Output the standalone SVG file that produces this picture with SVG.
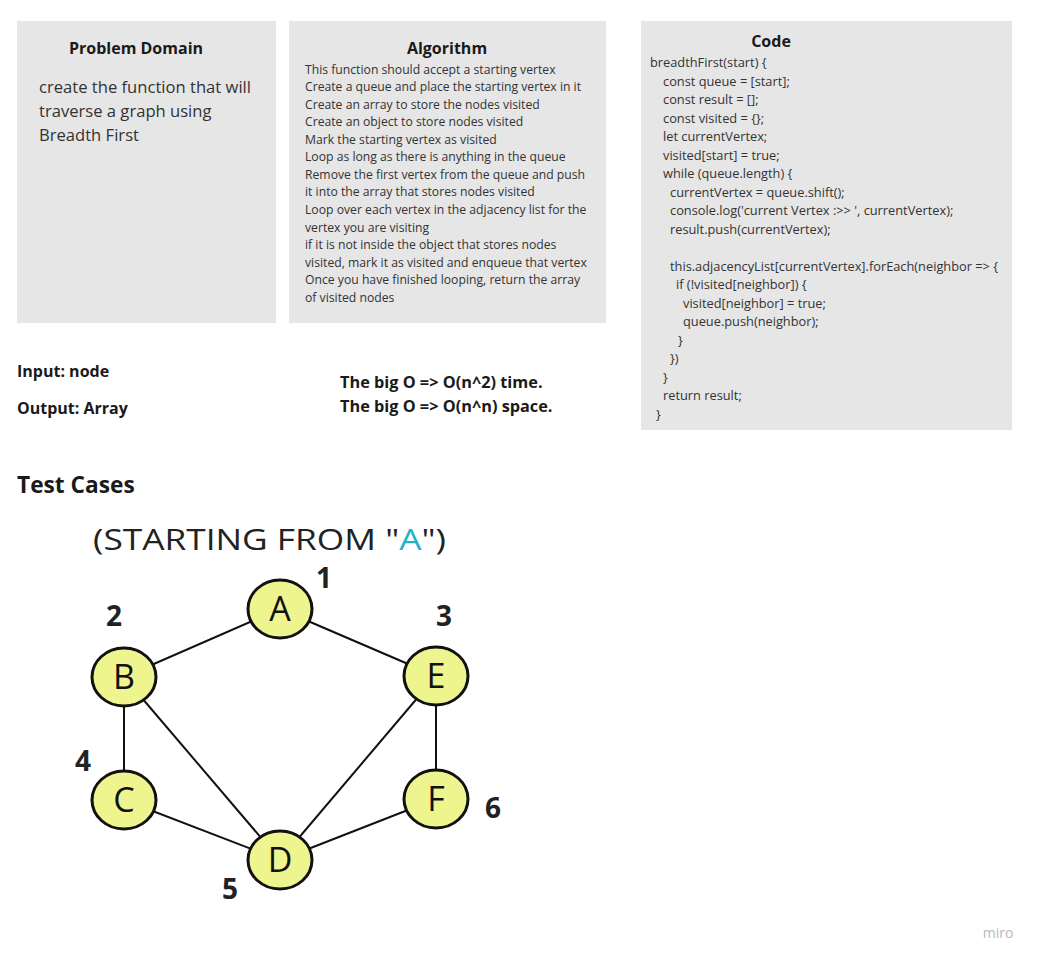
<svg xmlns="http://www.w3.org/2000/svg" width="1039" height="961" viewBox="0 0 1039 961">
<style>
.card{fill:#e6e6e6}
.h{font-family:"Open Sans","Liberation Sans",sans-serif;font-weight:700;font-size:16px;fill:#1a1a1a}
.bo{font-family:"Open Sans","Liberation Sans",sans-serif;font-weight:700;font-size:16.3px;fill:#1a1a1a}
.body{font-family:"Open Sans","Liberation Sans",sans-serif;font-size:16.6px;fill:#333}
.sm{font-family:"Open Sans","Liberation Sans",sans-serif;font-size:12.2px;fill:#333}
.code{font-family:"Open Sans","Liberation Sans",sans-serif;font-size:12.8px;fill:#333}
.node ellipse{fill:#eef48e;stroke:#111;stroke-width:3}
.node text{font-family:"Open Sans","Liberation Sans",sans-serif;font-size:34px;fill:#111;text-anchor:middle}
.num{font-family:"Open Sans","Liberation Sans",sans-serif;font-weight:700;font-size:28px;fill:#222}
#edges line{stroke:#111;stroke-width:2}
</style>
<rect width="1039" height="961" fill="#fff"/>
<g id="problem">
<rect class="card" x="17" y="21" width="259" height="302"/>
<text class="h" x="136" y="54" text-anchor="middle">Problem Domain</text>
<text class="body" x="39" y="93">create the function that will</text>
<text class="body" x="39" y="117">traverse a graph using</text>
<text class="body" x="39" y="141">Breadth First</text>
</g>
<g id="algorithm">
<rect class="card" x="289" y="21" width="317" height="302"/>
<text class="h" x="447" y="54" text-anchor="middle">Algorithm</text>
<text class="sm" x="305" y="74">This function should accept a starting vertex</text>
<text class="sm" x="305" y="91">Create a queue and place the starting vertex in it</text>
<text class="sm" x="305" y="109">Create an array to store the nodes visited</text>
<text class="sm" x="305" y="126">Create an object to store nodes visited</text>
<text class="sm" x="305" y="144">Mark the starting vertex as visited</text>
<text class="sm" x="305" y="161">Loop as long as there is anything in the queue</text>
<text class="sm" x="305" y="179">Remove the first vertex from the queue and push</text>
<text class="sm" x="305" y="196">it into the array that stores nodes visited</text>
<text class="sm" x="305" y="214">Loop over each vertex in the adjacency list for the</text>
<text class="sm" x="305" y="232">vertex you are visiting</text>
<text class="sm" x="305" y="249">if it is not inside the object that stores nodes</text>
<text class="sm" x="305" y="267">visited, mark it as visited and enqueue that vertex</text>
<text class="sm" x="305" y="284">Once you have finished looping, return the array</text>
<text class="sm" x="305" y="302">of visited nodes</text>
</g>
<g id="code">
<rect class="card" x="641" y="21" width="371" height="409"/>
<text class="h" x="771" y="47" text-anchor="middle">Code</text>
<text class="code" x="650" y="67">breadthFirst(start) {</text>
<text class="code" x="663" y="86">const queue = [start];</text>
<text class="code" x="663" y="104">const result = [];</text>
<text class="code" x="663" y="123">const visited = {};</text>
<text class="code" x="663" y="141">let currentVertex;</text>
<text class="code" x="663" y="160">visited[start] = true;</text>
<text class="code" x="663" y="178">while (queue.length) {</text>
<text class="code" x="670" y="197">currentVertex = queue.shift();</text>
<text class="code" x="670" y="215">console.log('current Vertex :&gt;&gt; ', currentVertex);</text>
<text class="code" x="670" y="234">result.push(currentVertex);</text>
<text class="code" x="670" y="271">this.adjacencyList[currentVertex].forEach(neighbor =&gt; {</text>
<text class="code" x="676" y="289">if (!visited[neighbor]) {</text>
<text class="code" x="683" y="308">visited[neighbor] = true;</text>
<text class="code" x="683" y="326">queue.push(neighbor);</text>
<text class="code" x="678" y="345">}</text>
<text class="code" x="670" y="363">})</text>
<text class="code" x="663" y="382">}</text>
<text class="code" x="663" y="400">return result;</text>
<text class="code" x="656" y="419">}</text>
</g>
<g id="io">
<text class="h" x="17" y="377">Input: node</text>
<text class="h" x="17" y="414">Output: Array</text>
</g>
<g id="bigo">
<text class="bo" x="340" y="388">The big O =&gt; O(n^2) time.</text>
<text class="bo" x="340" y="412">The big O =&gt; O(n^n) space.</text>
</g>
<text id="testcases" x="17" y="493" font-family="'Open Sans','Liberation Sans',sans-serif" font-weight="700" font-size="22.7" fill="#1a1a1a">Test Cases</text>
<text id="starting" x="93" y="550" font-family="'Open Sans','Liberation Sans',sans-serif" font-size="30" textLength="353" lengthAdjust="spacingAndGlyphs" fill="#222">(STARTING FROM "<tspan fill="#1fb2c9">A</tspan>")</text>
<g id="edges">
<line x1="280" y1="609" x2="124" y2="677"/>
<line x1="280" y1="609" x2="436" y2="676"/>
<line x1="124" y1="677" x2="124" y2="800"/>
<line x1="124" y1="677" x2="280" y2="860"/>
<line x1="436" y1="676" x2="280" y2="860"/>
<line x1="436" y1="676" x2="436" y2="799"/>
<line x1="124" y1="800" x2="280" y2="860"/>
<line x1="436" y1="799" x2="280" y2="860"/>
</g>
<g id="nodeA" class="node"><ellipse cx="280" cy="609" rx="32" ry="29"/><text x="280" y="621">A</text></g>
<g id="nodeB" class="node"><ellipse cx="124" cy="677" rx="32" ry="29"/><text x="124" y="689">B</text></g>
<g id="nodeE" class="node"><ellipse cx="436" cy="676" rx="32" ry="29"/><text x="436" y="688">E</text></g>
<g id="nodeC" class="node"><ellipse cx="124" cy="800" rx="32" ry="29"/><text x="124" y="812">C</text></g>
<g id="nodeF" class="node"><ellipse cx="436" cy="799" rx="32" ry="29"/><text x="436" y="811">F</text></g>
<g id="nodeD" class="node"><ellipse cx="280" cy="860" rx="32" ry="29"/><text x="280" y="872">D</text></g>
<g id="numbers">
<text class="num" x="324" y="588" text-anchor="middle">1</text>
<text class="num" x="114" y="626" text-anchor="middle">2</text>
<text class="num" x="444" y="626" text-anchor="middle">3</text>
<text class="num" x="83" y="771" text-anchor="middle">4</text>
<text class="num" x="230" y="899" text-anchor="middle">5</text>
<text class="num" x="493" y="818" text-anchor="middle">6</text>
</g>
<text id="miro" x="998" y="938" text-anchor="middle" font-family="'Open Sans','Liberation Sans',sans-serif" font-size="14" fill="#b8b8b8">miro</text>
</svg>
